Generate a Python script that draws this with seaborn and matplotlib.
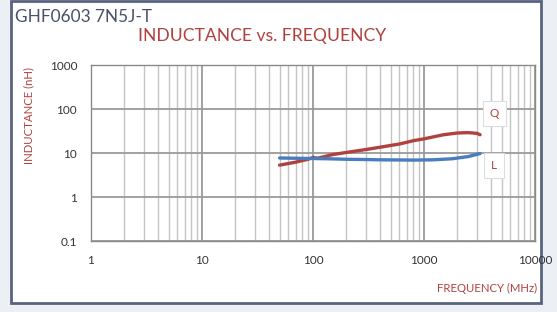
import numpy as np
import pandas as pd
import seaborn as sns
import matplotlib.pyplot as plt
from matplotlib.patches import Rectangle
from matplotlib.ticker import LogLocator, NullFormatter

# values
freq_l = [50, 70, 100, 150, 200, 300, 400, 600, 800, 1200, 1800, 2500, 3200]
ind_l = [7.7, 7.6, 7.5, 7.35, 7.2, 7.1, 7.0, 6.95, 6.9, 7.0, 7.4, 8.3, 9.7]
freq_q = [50, 70, 90, 100, 110, 150, 200, 300, 400, 600, 800, 1000, 1500, 2000, 2500, 3000, 3200]
q_vals = [5.3, 6.2, 7.2, 7.9, 7.6, 9.2, 10.3, 12.0, 13.5, 16.0, 19.0, 21.0, 26.0, 28.5, 29.0, 28.0, 26.0]

y_ticks = [0.1, 1, 10, 100, 1000]
y_labels = ["0.1", "1", "10", "100", "1000"]
x_ticks = [1, 10, 100, 1000, 10000]
x_labels = ["1", "10", "100", "1000", "10000"]

sns.set_style("white")
plt.rcParams['font.family'] = ['Lato', 'DejaVu Sans']

red = "#b0413e"
blue = "#4a7dbf"

fig = plt.figure(figsize=(5.57, 3.12), dpi=100)
fig.patch.set_facecolor("#eceff3")
# white panel with frame
fig.patches.append(Rectangle((11 / 557, 9 / 312), 530 / 557, 302 / 312,
                             transform=fig.transFigure, facecolor="white",
                             edgecolor="#58637f", linewidth=2, zorder=-5))

ax = fig.add_axes([91 / 557, 1 - 241 / 312, 444 / 557, 176 / 312])
ax.set_facecolor("white")
df_l = pd.DataFrame({"freq": freq_l, "val": ind_l})
df_q = pd.DataFrame({"freq": freq_q, "val": q_vals})
sns.lineplot(data=df_q, x="freq", y="val", color=red, linewidth=2.4, ax=ax, zorder=3)
sns.lineplot(data=df_l, x="freq", y="val", color=blue, linewidth=2.4, ax=ax, zorder=4)

ax.set_xscale("log")
ax.set_yscale("log")
ax.set_xlim(1, 10000)
ax.set_ylim(0.1, 1000)
ax.set_xticks(x_ticks)
ax.set_xticklabels(x_labels)
ax.set_yticks(y_ticks)
ax.set_yticklabels(y_labels)
ax.xaxis.set_minor_locator(LogLocator(base=10, subs=np.arange(2, 10)))
ax.yaxis.set_minor_locator(LogLocator(base=10, subs=np.arange(2, 10)))
ax.xaxis.set_minor_formatter(NullFormatter())
ax.yaxis.set_minor_formatter(NullFormatter())
ax.tick_params(axis="both", which="major", length=0, labelsize=8.5, colors="#333333", pad=10)
ax.tick_params(axis="both", which="minor", direction="in", length=3, color="#aaaaaa", width=0.6)
ax.grid(True, which="major", color="#9a9a9a", linewidth=1.3)
ax.grid(True, which="minor", axis="x", color="#c4c4c4", linewidth=1.0)
for s in ax.spines.values():
    s.set_color("#8a8a8a")
    s.set_linewidth(1.0)
ax.set_xlabel("")
ax.set_ylabel("")

# curve tags
for lbl, yv in [("Q", 80), ("L", 5.3)]:
    ax.text(4300, yv, lbl, color=red, fontsize=8.5, ha="center", va="center",
            bbox=dict(boxstyle="square,pad=0.6", facecolor="white", edgecolor="#dddddd", linewidth=0.8),
            zorder=5)

fig.text(15 / 557, 1 - 17 / 312, "GHF0603 7N5J-T", color="#4a5068", fontsize=12.4, ha="left", va="center")
fig.text(262 / 557, 1 - 36 / 312, "INDUCTANCE vs. FREQUENCY", color=red, fontsize=12.6,
         ha="center", va="center")
fig.text(29 / 557, 1 - 116 / 312, "INDUCTANCE (nH)", color=red, fontsize=8.2, rotation=90,
         ha="center", va="center")
fig.text(537 / 557, 1 - 288 / 312, "FREQUENCY (MHz)", color=red, fontsize=8.2, ha="right", va="center")

fig.savefig("out.png", dpi=100, facecolor=fig.get_facecolor())
